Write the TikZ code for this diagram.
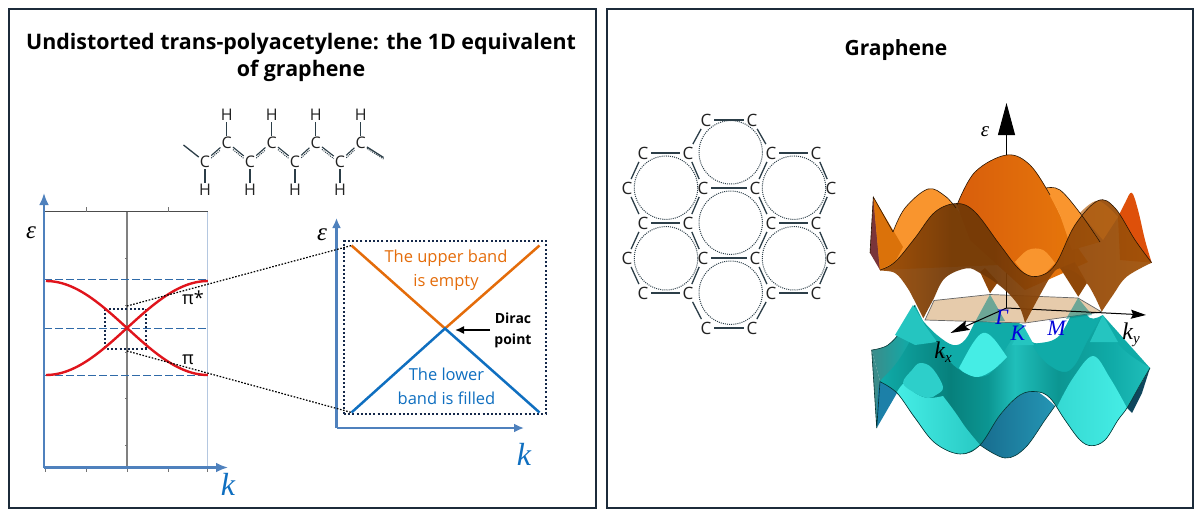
\documentclass[tikz,border=0pt]{standalone}
\usepackage{fontspec}
\setmainfont{Open Sans}
\newfontfamily\mifont{Liberation Serif}
\usetikzlibrary{arrows.meta,calc}
\definecolor{frameC}{HTML}{1C2B3A}
\definecolor{axisB}{HTML}{4F81BD}
\definecolor{axisL}{HTML}{B4C7E0}
\definecolor{dashB}{HTML}{2F6AA8}
\definecolor{bandR}{HTML}{E0141C}
\definecolor{dotN}{HTML}{14284A}
\definecolor{oranT}{HTML}{E46C0A}
\definecolor{blueT}{HTML}{0F6FC0}
\definecolor{ink}{HTML}{222222}
\definecolor{bond}{HTML}{2C3E48}
\definecolor{oL}{HTML}{F9952E}
\definecolor{oD}{HTML}{D85E0C}
\definecolor{oM}{HTML}{E8790A}
\definecolor{oB}{HTML}{8F4708}
\definecolor{tM}{HTML}{10ABA8}
\definecolor{tD}{HTML}{07807C}
\definecolor{tL}{HTML}{45EDE5}
\definecolor{tB}{HTML}{1C80A8}
\definecolor{planeC}{HTML}{E6CBAB}
\colorlet{tG}{black!35!tM!80!white}
\colorlet{tH}{tM!70!tL}
\colorlet{tJ}{tD!50!tM}
\colorlet{oF}{oB!85!oM}
\colorlet{oG}{oB!80!black}
\colorlet{oH}{oB!80!oM}
\pgfdeclarehorizontalshading{tealB}{100bp}{color(0bp)=(tG);color(25bp)=(tG);color(32bp)=(tM);color(100bp)=(tM)}
\pgfdeclarehorizontalshading{tealF}{100bp}{color(0bp)=(tM);color(25bp)=(tM);color(38bp)=(tD);color(45bp)=(tJ);color(50bp)=(tH);color(58bp)=(tJ);color(68bp)=(tM);color(75bp)=(tH);color(100bp)=(tH)}
\pgfdeclarehorizontalshading{orF}{100bp}{color(0bp)=(oF);color(25bp)=(oF);color(38bp)=(oG);color(46bp)=(oG);color(56bp)=(oB);color(75bp)=(oH);color(100bp)=(oH)}
\tikzset{
 frame/.style={draw=frameC,line width=2},
 thickaxis/.style={draw=axisB,line width=2.6,-{Latex[length=12,width=10]}},
 dashline/.style={draw=dashB,line width=1.8,dash pattern=on 7.5 off 3.5},
 redband/.style={draw=bandR,line width=2.4},
 dotbox/.style={draw=dotN,line width=2,dash pattern=on 2 off 2.2},
 dotlink/.style={draw=black,line width=1.2,dash pattern=on 1.6 off 1.6},
 chem/.style={font=\fontsize{16}{17}\selectfont,text=ink,inner sep=1},
 gr/.style={font=\fontsize{17}{18}\selectfont,text=ink,inner sep=2.5},
 bondline/.style={draw=bond,line width=1.3},
 ringdot/.style={draw=bond,line width=1,dash pattern=on 1 off 1.1},
 edgeO/.style={draw=black!70!oB,line width=.6},
 edgeT/.style={draw=black!60!tD,line width=.6},
 smth/.style={smooth,tension=.6},
 ticks/.style={draw=black!55,line width=.7},
 mlabel/.style={inner sep=0,font=\mifont\itshape\fontsize{#1}{#1}\selectfont},
}
\newcommand{\subsc}[1]{\raisebox{-3.5pt}{\fontsize{15}{15}\selectfont #1}}
\begin{document}
\begin{tikzpicture}[x=1pt,y=-1pt]
\useasboundingbox (0,0) rectangle (1200,519);
\fill[white] (0,0) rectangle (1200,519);
\node[frame,minimum width=587,minimum height=498,anchor=north west,inner sep=0] (lp) at (8,8.5) {};
\node[frame,minimum width=586,minimum height=498,anchor=north west,inner sep=0] (rp) at (606,8.5) {};
\node[font=\bfseries\fontsize{21.4}{27}\selectfont,align=center,text=black] (t1) at (301,57) {Undistorted trans-polyacetylene: the 1D equivalent\\of graphene};
\node[font=\bfseries\fontsize{21}{24}\selectfont,text=black] (t2) at (896,50) {Graphene};
% polyacetylene
\foreach \n/\x/\y in {c1/205/162,c2/226.7/143,c3/250/162,c4/271.7/143,c5/295/162,c6/315.7/143,c7/340/162,c8/360.7/143}
  \node[chem] (\n) at (\x,\y) {C};
\foreach \n/\x/\y in {h1/205/189.5,h2/226.7/115,h3/250/189.5,h4/271.7/115,h5/295/189.5,h6/315.7/115,h7/340/189.5,h8/360.7/115}
  \node[chem] (\n) at (\x,\y) {H};
\coordinate (e1) at (183.5,145);
\coordinate (e2) at (383.5,157.5);
\draw[bondline] (e1) -- (c1);
\draw[bondline] (c8) -- (e2);
\foreach \a/\b in {c1/h1,c2/h2,c3/h3,c4/h4,c5/h5,c6/h6,c7/h7,c8/h8} \draw[bondline] (\a) -- (\b);
\foreach \a/\b in {c1/c2,c2/c3,c3/c4,c4/c5,c5/c6,c6/c7,c7/c8}{
  \draw[bondline,line width=1.1,transform canvas={yshift=1}] (\a) -- (\b);
  \draw[ringdot,transform canvas={yshift=-1.5}] (\a) -- (\b);
}
\draw[ringdot,transform canvas={yshift=-1.5}] (c8) -- (e2);
% band plot
\coordinate (o1) at (44,467.5);
\coordinate (ytop) at (44,193);
\coordinate (xend) at (228,467.5);
\coordinate (tl) at (44,211.5);
\coordinate (tr) at (207.5,211.5);
\coordinate (br) at (207.5,467.5);
\coordinate (tc) at (127,211.5);
\coordinate (bc) at (127,467.5);
\draw[draw=axisL,line width=1.2] (tr) -- (br);
\draw[draw=black!70,line width=.8] (tl) -- (tr);
\draw[draw=black!50,line width=1.1] (tc) -- (bc);
\foreach \x in {86,168} \draw[ticks] (\x,207) -- (\x,211.5);
\foreach \x in {45,86,127,168,207.5} \draw[ticks] (\x,467.5) -- (\x,472);
\foreach \y in {258,305,352,398,445} \draw[ticks] (125,\y) -- (127,\y);
\draw[dashline] (44,279.5) -- (207.5,279.5);
\draw[dashline] (44,328.5) -- (207.5,328.5);
\draw[dashline] (44,375.5) -- (207.5,375.5);
\coordinate (bx1) at (105,308.5);
\coordinate (bx2) at (145.5,348.5);
\draw[dotbox] (bx1) rectangle (bx2);
\draw[redband] plot[domain=-1:1,samples=50] ({127+81*\x},{328-47*sin(90*\x)});
\draw[redband] plot[domain=-1:1,samples=50] ({127+81*\x},{328+47*sin(90*\x)});
\draw[thickaxis] (o1) -- (ytop);
\draw[thickaxis] (44,467.5) -- (xend);
\node[font=\fontsize{18}{20}\selectfont,inner sep=0] (pis) at (193,298) {π*};
\node[font=\fontsize{18}{20}\selectfont,inner sep=0] (pin) at (188,360) {π};
\node[mlabel=25] (eps1) at (31,233) {ε};
\node[mlabel=32,text=blueT] (k1) at (228,484) {k};
% zoomed plot
\coordinate (o2) at (336.5,428);
\draw[draw=axisB,line width=2.2,-{Latex[length=10,width=9]}] (o2) -- (336.5,218);
\draw[draw=axisB,line width=2.2,-{Latex[length=10,width=9]}] (o2) -- (524,428);
\node[dotbox,minimum width=202,minimum height=173,inner sep=0,anchor=north west] (zb) at (343,240) {};
\coordinate (dp) at (445,328.5);
\coordinate (ul) at (351.5,245.5);
\coordinate (ur) at (539.5,245.5);
\coordinate (ll) at (351.5,412.5);
\coordinate (lr) at (539.5,412.5);
\draw[draw=oranT,line width=2.5] (ul) -- (dp) -- (ur);
\draw[draw=blueT,line width=2.5] (ll) -- (dp) -- (lr);
\draw[dotlink] (127,306) -- (ul);
\draw[dotlink] (127,351) -- (ll);
\node[text=oranT,font=\fontsize{16.5}{24.5}\selectfont,align=center,inner sep=0] (ut) at (446,270) {The upper band\\is empty};
\node[text=blueT,font=\fontsize{16.5}{23.5}\selectfont,align=center,inner sep=0] (lt) at (446.5,386.5) {The lower\\band is filled};
\node[font=\bfseries\fontsize{14}{21}\selectfont,align=center,inner sep=0] (dt) at (513,330.5) {Dirac\\point};
\draw[draw=black,line width=1.5,-{Latex[length=9,width=8]}] (490,330) -- (455,330);
\node[mlabel=25] (eps2) at (322,235) {ε};
\node[mlabel=32,text=blueT] (k2) at (524,454) {k};
% honeycomb
\foreach \x/\y in {666/187.7,666/258.3,730.7/152.3,730.7/222.7,730.7/292.7,794/187.7,794/258.3}
  \draw[ringdot] (\x,\y) circle (31.7);
\foreach \n/\x/\y in {a1/706/120,a2/752/120,b1/643/153,b2/688/153,b3/771/153,b4/816/153,d1/627/188,d2/703/188,d3/755/188,d4/831/188,f1/643/223,f2/688/223,f3/771/223,f4/816/223,g1/627/258,g2/703/258,g3/755/258,g4/831/258,m1/643/293,m2/688/293,m3/771/293,m4/816/293,n1/706/328,n2/752/328}
  \node[gr] (\n) at (\x,\y) {C};
\foreach \a/\b in {a1/a2,a1/b2,a2/b3,b2/d2,b3/d3,d2/d3,b1/b2,b1/d1,d1/f1,d2/f2,f1/f2,f2/g2,f1/g1,g1/m1,m1/m2,m2/g2,g2/g3,g3/f3,f3/d3,b3/b4,b4/d4,d4/f4,f3/f4,f4/g4,g4/m4,m3/m4,m3/g3,m2/n1,m3/n2,n1/n2}
  \draw[bondline] (\a) -- (\b);
% lower band
\shade[shading=tealB] plot[smth] coordinates {(871.7,350)(888,345)(903,328)(915,305)} -- (923,321) -- plot[smth] coordinates {(923,321)(937,335)(953,345)(965,340)(976,320)(990,296)} -- plot[smth] coordinates {(990,296)(1005,315)(1023,325)} -- plot[smth] coordinates {(1023,325)(1030,340)(1040,343)(1060,335)(1078,300)} -- plot[smth] coordinates {(1078,300)(1090,318)(1102.7,315)} -- (1150,368) -- (1127,405) -- (1036,392) -- (897,392) -- (880,381) -- cycle;
\fill[fill=tG] (871.7,350) -- (880,381) -- (876.7,428) -- cycle;
\fill[fill=tB] plot[smth] coordinates {(876.7,428)(880,381.7)(897,393)} -- cycle;
\fill[fill=black!45!tB] (1127,408) -- (1132,413) -- (1142,393) -- (1150,368) -- cycle;
\shade[left color=tB!85!black,right color=tB!80!tL] plot[smth] coordinates {(980,445)(1005,458)(1025,448)(1045,420)(1055,406)} -- plot[smth] coordinates {(1055,406)(1036.7,391.7)(1020,395)(1000,415)(980,445)} -- cycle;
\shade[shading=tealF] plot[smth] coordinates {(881,380)(895,365)(905,350)(915,332)(923,321)} -- plot[smth] coordinates {(923,321)(935,340)(950,362)(965,373)(978,377)(992,372)(1005,350)(1015,335)(1023,325)} -- plot[smth] coordinates {(1023,325)(1032,345)(1045,362)(1063,372)(1075,365)(1088,340)(1102.7,315)} -- plot[smth] coordinates {(1102.7,315)(1115,340)(1130,355)(1150,368)} -- plot[smth] coordinates {(1150,368)(1140,385)(1127,408)(1118,420)(1105,440)(1091.7,445.7)(1080,440)(1065,420)(1050,398)(1036.7,391.7)(1020,395)(1000,415)(980,445)(960,454)(935,443)(915,418)(897,393)(880,381.7)} -- cycle;
\shade[left color=tL,right color=tM!55!tL] plot[smth] coordinates {(897,392)(915,417)(935,443)(960,454)(980,445)} -- plot[smth] coordinates {(980,445)(966,428)(955,412)(943,396)} -- plot[smth] coordinates {(943,396)(928,398)(915,393)(905,383)(897,392)} -- cycle;
\fill[fill=tL!55!tM] plot[smooth cycle,tension=.6] coordinates {(903,383)(912,370)(920,363)(932,368)(943,387)(936,395)(928,398)(915,393)};
\shade[left color=tL!70!tM,right color=tL] (1057,407) -- plot[smth] coordinates {(1057,407)(1065,420)(1080,440)(1091.7,445.7)(1105,440)(1118,420)(1127,408)} -- plot[smth] coordinates {(1127,408)(1110,378)(1093,356)(1073,378)(1057,407)} -- cycle;
\fill[fill=tL] plot[smth] coordinates {(959,368)(973,343)(983,333)(993,338)(1007,357)} -- plot[smth] coordinates {(1007,357)(993,370)(978,377)(965,373)(959,368)} -- cycle;
\draw[edgeT] plot[smth] coordinates {(880,381.7)(897,393)(915,418)(935,443)(960,454)(980,445)(1000,415)(1020,395)(1036.7,391.7)(1050,398)(1065,420)(1080,440)(1091.7,445.7)(1105,440)(1118,420)(1127,408)(1140,385)(1150,368)};
\draw[edgeT] plot[smth] coordinates {(980,445)(1005,458)(1025,448)(1045,420)(1055,406)};
\draw[edgeT] plot[smth] coordinates {(871.7,350)(888,345)(903,328)(915,305)};
\draw[edgeT] (871.7,350) -- (876.7,428) -- (880,381.7);
% bright cone tips under the plane
\fill[fill=tM!60!tL] (1023,325) -- (1034,345) -- (1012,345) -- cycle;
\fill[fill=tM!60!tL] (1102.7,315) -- (1118,342) -- (1090,342) -- cycle;
\fill[fill=tM!60!tL] (913,305) -- (925,325) -- (937,342) -- (915,345) -- (895,335) -- cycle;
% plane
\coordinate (pa) at (934,300.5);
\coordinate (pb) at (990,294.5);
\coordinate (pc) at (1078,298);
\coordinate (pd) at (1101.7,312);
\coordinate (pe) at (1025,323);
\coordinate (pf) at (925,320);
\draw[fill=planeC,draw=black!60,line width=.7] (pa) -- (pb) -- (pc) -- (pd) -- (pe) -- (pf) -- cycle;
\fill[fill=tD!80!tM,opacity=.55] (990,294.5) -- (1005,321) -- (975,322) -- cycle;
\fill[fill=tD!80!tM,opacity=.55] (1078,298) -- (1092,315) -- (1066,319) -- cycle;
% axes
\coordinate (og) at (1006.5,308);
\draw[draw=black,line width=.9] (og) -- (1006.5,135);
\draw[draw=black,line width=1,-{Stealth[length=15,width=9,inset=2]}] (og) -- (1146,315);
% upper band
\fill[fill=black!30!oD!80!blue] (870,253) -- (873.3,197) -- (885,225) -- (880,270) -- cycle;
\fill[fill=oL] plot[smth] coordinates {(873.3,197)(882,212)(893,232)} -- plot[smth] coordinates {(893,232)(905,208)(928,189)(945,196)(956,208)} -- (1000,265) -- (880,270) -- cycle;
\shade[left color=oD,right color=oM] plot[smth] coordinates {(957,205)(975,172)(1006.7,155)(1030,165)(1050,195)(1070,235)(1088,262)} -- (1025,290) -- (970,240) -- cycle;
\fill[fill=oL] plot[smth] coordinates {(1046,188)(1060,190)(1080,213)(1100,242)} -- (1072,250) -- (1060,215) -- cycle;
\fill[fill=oL] plot[smth] coordinates {(1015,262)(1028,250)(1043,250)(1055,263)} -- (1040,279) -- (1028,278) -- cycle;
\fill[fill=oD!85!red] plot[smth] coordinates {(1118,217)(1125,203)(1131.7,192.7)(1138,210)(1145,240)(1151.7,262.7)} -- (1120,260) -- cycle;
\fill[fill=oB] (980,272) -- (990,293.3) -- (998,282) -- (985,268) -- cycle;
\fill[fill=oB] (1060,268) -- (1078.3,296.7) -- (1087,283) -- (1075,262) -- cycle;
\shade[shading=orF,opacity=.94] plot[smth] coordinates {(880,270)(895,262)(915,238)(935,212)(956.7,203.5)(975,212)(1000,245)(1020,270)(1036.7,276.5)(1055,265)(1075,225)(1098,200.7)(1115,208)(1135,240)(1151.7,262.7)} -- plot[smth] coordinates {(1151.7,262.7)(1126.7,276.7)(1113,295)(1101.7,311.7)} -- plot[smth] coordinates {(1101.7,311.7)(1095,297)(1086.7,283)(1075,272)(1060,268.3)(1051.7,275)(1040,295)(1025,323)} -- plot[smth] coordinates {(1025,323)(1020,308)(1010,295)(996.7,283.3)(980,273)(966.7,268.3)(945,278)(933,300)(923.3,318.3)} -- plot[smth] coordinates {(923.3,318.3)(915,301.7)(906.7,286.7)(895,273)(880,270.7)} -- cycle;
\fill[fill=oM!85!oB] (873.3,197) -- (880,270) -- (895,262) -- (903,247) -- cycle;
\fill[fill=oB!60!oL,opacity=.7] plot[smth] coordinates {(1080,213)(1098,200.7)(1118,217)} -- (1103,240) -- cycle;
\draw[edgeO] plot[smth] coordinates {(880,270)(895,262)(915,238)(935,212)(956.7,203.5)(975,212)(1000,245)(1020,270)(1036.7,276.5)(1055,265)(1075,225)(1098,200.7)(1115,208)(1135,240)(1151.7,262.7)};
\draw[edgeO] plot[smth] coordinates {(893,232)(905,208)(928,189)(945,196)(956,208)};
\draw[edgeO] plot[smth] coordinates {(1046,188)(1060,190)(1080,213)(1100,242)};
\draw[edgeO] plot[smth] coordinates {(957,205)(975,172)(1006.7,155)(1030,165)(1050,195)};
\draw[edgeO] (870,253) -- (873.3,197) -- (893,232);
\draw[draw=black!70!oB,line width=.7] (1006.5,155) -- (1006.5,135);
\draw[draw=black,line width=1,-{Triangle[length=32,width=17]}] (1006.5,155) -- (1006.5,103);
\draw[draw=black,line width=1,-{Stealth[length=19,width=10,inset=3]}] (og) -- (950.5,333);
\node[mlabel=21] (eg) at (985,132) {ε};
\node[mlabel=22,text=blue!85!black] (gam) at (1001.5,317) {Γ};
\node[mlabel=22,text=blue!85!black] (kk) at (1018,333) {K};
\node[mlabel=22,text=blue!85!black] (mm) at (1056.5,328) {M};
\node[mlabel=24] (kx) at (943,352) {k\subsc{x}};
\node[mlabel=24] (ky) at (1131,335) {k\subsc{y}};
\end{tikzpicture}
\end{document}
